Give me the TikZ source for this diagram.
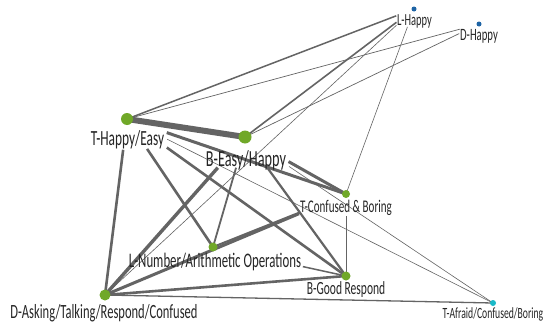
\documentclass[tikz,border=0pt]{standalone}
\usepackage{fontspec}
\newfontfamily\lblfont[FakeStretch=0.62]{Carlito}
\definecolor{edgegray}{RGB}{100,100,100}
\definecolor{dotgreen}{RGB}{112,168,40}
\definecolor{dotblue}{RGB}{30,100,165}
\definecolor{dotcyan}{RGB}{25,185,200}
\tikzset{
  vertex/.style={circle, inner sep=0pt, minimum size=#1},
  lbl/.style={font=\lblfont\fontsize{#1}{#1}\selectfont, inner sep=0pt, text=black!85},
  edgeline/.style={draw=edgegray, line width=#1},
}
\begin{document}
\begin{tikzpicture}[x=1pt,y=-1pt]
    \useasboundingbox[fill=white] (0,0) rectangle (545,324);

    \coordinate (th) at (127,119);
    \coordinate (be) at (245,137);
    \coordinate (tc) at (346,194);
    \coordinate (ln) at (213,247);
    \coordinate (bg) at (346,276);
    \coordinate (da) at (105,295);
    \coordinate (ta) at (493,303);
    \coordinate (lh) at (414,9);
    \coordinate (dh) at (479,24);

    % links, cut where the end labels cover them
    \draw[edgeline=6pt] (th) -- (be);
    \draw[edgeline=1.5pt, shorten >=19pt] (th) -- (lh);
    \draw[edgeline=0.7pt, shorten >=20pt] (th) -- (dh);
    \draw[edgeline=1.6pt, shorten >=22pt] (be) -- (lh);
    \draw[edgeline=0.7pt, shorten >=22pt] (be) -- (dh);
    \draw[edgeline=0.6pt, shorten >=24pt] (da) -- (lh);
    \draw[edgeline=0.6pt, shorten <=19pt] (lh) -- (tc);
    \draw[edgeline=3pt, shorten <=42pt] (th) -- (tc);
    \draw[edgeline=0.6pt, shorten <=45pt] (th) -- (ta);
    \draw[edgeline=2.6pt, shorten <=49pt] (th) -- (bg);
    \draw[edgeline=2.6pt, shorten <=36pt] (th) -- (ln);
    \draw[edgeline=2.6pt, shorten <=31pt] (th) -- (da);
    \draw[edgeline=3pt, shorten <=50pt] (be) -- (tc);
    \draw[edgeline=0.6pt, shorten <=53pt] (be) -- (ta);
    \draw[edgeline=2.2pt, shorten <=38pt] (be) -- (bg);
    \draw[edgeline=1.8pt, shorten <=32pt] (be) -- (ln);
    \draw[edgeline=3.4pt, shorten <=41pt] (be) -- (da);
    \draw[edgeline=3pt, shorten >=51pt] (da) -- (tc);
    \draw[edgeline=2pt, shorten >=50pt] (ln) -- (tc);
    \draw[edgeline=2.6pt] (da) -- (bg);
    \draw[edgeline=1.3pt] (da) -- (ta);
    \draw[edgeline=1.5pt, shorten <=92pt] (ln) -- (bg);
    \draw[edgeline=0.6pt, shorten <=22pt] (tc) -- (bg);

    % dots
    \node[vertex=12pt, fill=dotgreen] (th-dot) at (th) {};
    \node[vertex=13pt, fill=dotgreen] (be-dot) at (be) {};
    \node[vertex=8pt, fill=dotgreen] (tc-dot) at (tc) {};
    \node[vertex=9pt, fill=dotgreen] (ln-dot) at (ln) {};
    \node[vertex=9pt, fill=dotgreen] (bg-dot) at (bg) {};
    \node[vertex=11pt, fill=dotgreen] (da-dot) at (da) {};
    \node[vertex=6pt, fill=dotcyan] (ta-dot) at (ta) {};
    \node[vertex=5pt, fill=dotblue] (lh-dot) at (lh) {};
    \node[vertex=5pt, fill=dotblue] (dh-dot) at (dh) {};

    % labels
    \node[lbl=21.6] (th-lbl) at (127.5,140) {T-Happy/Easy};
    \node[lbl=23] (be-lbl) at (246,160) {B-Easy/Happy};
    \node[lbl=17.8] (tc-lbl) at (346,208) {T-Confused \& Boring};
    \node[lbl=20.7] (ln-lbl) at (215,262) {L-Number/Arithmetic Operations};
    \node[lbl=18.6] (bg-lbl) at (346,290) {B-Good Respond};
    \node[lbl=20.2] (da-lbl) at (104,313) {D-Asking/Talking/Respond/Confused};
    \node[lbl=15.6] (ta-lbl) at (493,314) {T-Afraid/Confused/Boring};
    \node[lbl=16.9] (lh-lbl) at (414.5,21) {L-Happy};
    \node[lbl=17.3] (dh-lbl) at (479,36) {D-Happy};
\end{tikzpicture}
\end{document}
